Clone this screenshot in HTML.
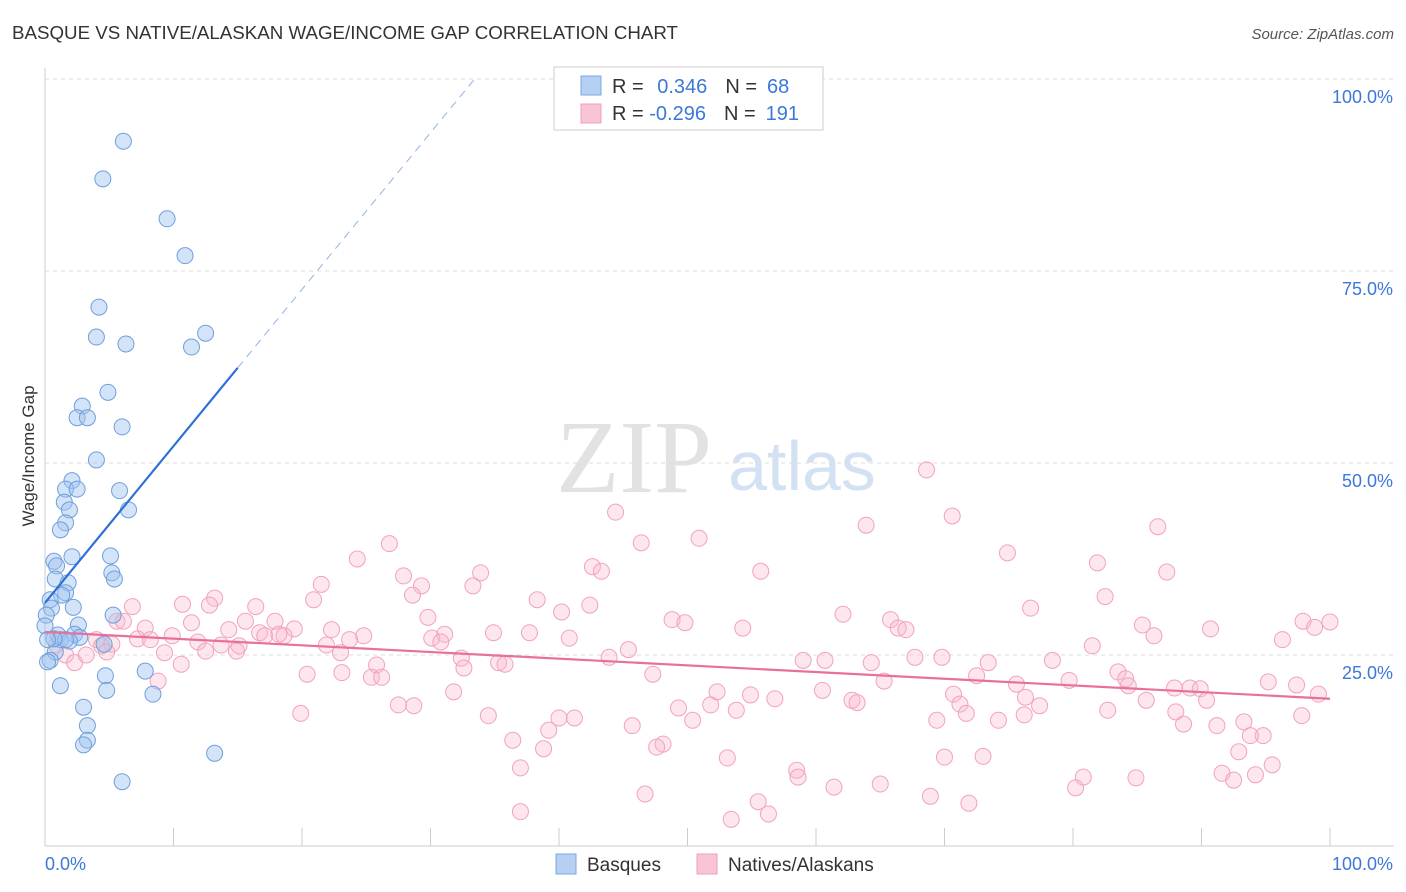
<!DOCTYPE html>
<html><head><meta charset="utf-8">
<style>
body{margin:0;background:#fff;font-family:"Liberation Sans",sans-serif;}
#wrap{position:relative;width:1406px;height:892px;overflow:hidden;}
</style></head>
<body>
<div id="wrap">
<svg id="chart" width="1406" height="892">
  <text x="12" y="39" font-size="18" fill="#333" textLength="666" lengthAdjust="spacingAndGlyphs">BASQUE VS NATIVE/ALASKAN WAGE/INCOME GAP CORRELATION CHART</text>
  <text x="1394" y="39" font-size="15" fill="#555" font-style="italic" text-anchor="end">Source: ZipAtlas.com</text>
  <text x="34" y="456" font-size="17" fill="#333" text-anchor="middle" transform="rotate(-90 34 456)">Wage/Income Gap</text>
  <g>
    <text x="634" y="492" font-size="104" fill="#e2e2e2" text-anchor="middle" font-family="Liberation Serif,serif">ZIP</text>
    <text x="802" y="490" font-size="70" fill="#d3e2f3" text-anchor="middle">atlas</text>
  </g>
  <g id="grid"></g>
  <g id="axes"></g>
  <g id="pts"></g>
  <g id="lines"></g>
  <g>
    <rect x="554" y="67" width="269" height="63" fill="#fff" stroke="#ccc"/>
    <rect x="581" y="76" width="20" height="19" fill="#b5d0f2" stroke="#7aa8e0"/>
    <rect x="581" y="104" width="20" height="19" fill="#f9c5d5" stroke="#f0a0b8"/>
    <text x="612" y="93" font-size="20" fill="#333">R = <tspan fill="#3b78d8" dx="8">0.346</tspan><tspan dx="18" fill="#333">N =</tspan><tspan dx="10" fill="#3b78d8">68</tspan></text>
    <text x="612" y="120" font-size="20" fill="#333">R = <tspan fill="#3b78d8">-0.296</tspan><tspan dx="18" fill="#333">N =</tspan><tspan dx="10" fill="#3b78d8">191</tspan></text>
  </g>
  <g>
    <rect x="556" y="854" width="20" height="20" fill="#b5d0f2" stroke="#7aa8e0"/>
    <text x="587" y="871" font-size="19" fill="#333">Basques</text>
    <rect x="697" y="854" width="20" height="20" fill="#f9c5d5" stroke="#f0a0b8"/>
    <text x="728" y="871" font-size="19" fill="#333">Natives/Alaskans</text>
  </g>
</svg>
</div>
<script>
const yTicks=[25,50,75,100];
const yTickLabels=["25.0%","50.0%","75.0%","100.0%"];
const xTicks=[0,10,20,30,40,50,60,70,80,90,100];
const blueX=[6.1,4.5,9.5,10.9,4.2,4.0,6.3,12.5,11.4,4.9,2.9,2.5,3.3,6.0,4.0,2.1,1.6,2.5,1.5,5.8,1.9,6.5,1.6,1.2,5.1,2.1,0.7,0.9,5.2,0.8,5.4,1.8,1.6,1.3,0.4,2.2,0.5,5.3,0.1,2.6,0,1.0,2.3,2.7,1.2,1.9,4.6,0.8,0.4,7.8,0.2,4.7,1.2,4.8,8.4,3.0,3.3,3.3,3.0,13.2,6.0,1.6,0.7,0.2];
const blueY=[91.9,87.0,81.8,77.0,70.3,66.4,65.5,66.9,65.1,59.2,57.4,55.9,55.9,54.7,50.4,47.7,46.6,46.6,44.9,46.4,43.9,43.9,42.2,41.3,37.9,37.8,37.2,36.6,35.7,34.9,34.9,34.4,33.1,32.8,32.2,31.2,31.1,30.2,30.2,28.9,28.8,27.6,27.7,27.3,27.0,26.8,26.4,25.4,24.3,22.9,24.1,22.3,21.0,20.4,19.9,18.2,15.8,13.9,13.3,12.2,8.5,27.0,27.1,27.0];
const pinkX=[44.4,68.6,70.6,63.9,86.6,50.9,46.4,26.8,74.9,81.9,24.3,42.6,43.3,87.3,55.7,27.9,33.9,21.5,29.3,33.3,28.6,13.2,82.5,38.3,10.7,12.8,16.4,6.8,42.4,20.9,76.7,62.1,40.2,29.8,48.8,49.8,65.8,97.9,100,98.8,85.4,90.7,15.6,17.9,11.4,5.6,6.1,7.8,14.3,16.7,19.4,22.3,34.9,37.7,40.8,54.3,66.4,67.0,86.3,96.3,31.1,30.1,30.8,24.8,23.7,9.9,11.9,13.7,15.1,17.1,18.6,18.2,12.5,14.9,7.2,8.2,5.2,4.0,4.4,0.9,1.6,2.3,3.2,4.8,9.3,10.6,21.9,23.0,45.4,43.9,32.4,32.6,35.3,35.8,81.5,78.4,67.7,69.8,73.4,59.0,60.7,64.3,83.5,84.1,72.5,84.3,65.3,79.7,75.6,8.8,20.4,23.1,25.8,25.4,26.2,47.3,95.2,97.4,99.1,87.9,89.1,89.9,90.4,85.7,76.3,70.7,71.2,52.3,54.9,56.8,60.5,62.8,63.2,51.8,49.3,31.8,27.5,28.7,19.9,34.5,40.0,41.2,53.8,50.4,82.7,88.0,88.6,91.2,93.3,94.8,97.8,69.4,71.7,77.4,74.2,76.2,45.7,39.2,36.4,48.1,47.6,38.8,93.8,92.9,95.5,91.6,92.5,94.2,80.8,80.2,84.9,73.0,53.1,58.5,58.6,65.0,61.4,70.0,37.0,46.7,55.5,56.3,68.9,71.9,53.4,37.0];
const pinkY=[43.6,49.1,43.1,41.9,41.7,40.2,39.6,39.5,38.3,37.0,37.5,36.5,35.9,35.8,35.9,35.3,35.7,34.2,34.0,34.0,32.8,32.4,32.6,32.2,31.6,31.5,31.3,31.3,31.5,32.2,31.1,30.3,30.6,29.9,29.6,29.2,29.6,29.4,29.3,28.6,28.9,28.4,29.4,29.4,29.2,29.4,29.4,28.5,28.3,27.9,28.4,28.3,27.9,27.9,27.2,28.5,28.5,28.3,27.5,27.0,27.7,27.2,26.7,27.5,27.0,27.5,26.7,26.3,26.2,27.5,27.5,27.7,25.5,25.5,27.1,27.0,26.4,27.0,26.2,26.3,25.0,24.0,25.0,25.4,25.3,23.8,26.3,25.3,25.7,24.7,24.6,23.3,24.0,23.8,26.2,24.3,24.7,24.7,24.0,24.3,24.3,24.0,22.8,21.9,22.3,21.0,21.6,21.7,21.2,21.6,22.5,22.7,23.7,22.1,22.1,22.5,21.5,21.1,19.9,20.7,20.7,20.6,19.1,19.1,19.5,19.9,18.6,20.2,19.8,19.3,20.4,19.1,18.8,18.5,18.1,20.2,18.5,18.4,17.4,17.1,16.8,16.8,17.8,16.5,17.8,17.6,16.0,15.8,16.3,14.5,17.1,16.5,17.4,18.4,16.5,17.2,15.8,15.2,13.9,13.4,13.0,12.8,14.5,12.4,10.7,9.6,8.7,9.4,9.1,7.7,9.0,11.8,11.6,10.0,9.1,8.2,7.8,11.7,10.3,6.9,5.9,4.3,6.6,5.7,3.6,4.6];
const blueFit={x0:0,x1:15,intercept:31.8,slope:2.04,xDashEnd:33.4};
const pinkFit={x0:0,x1:100,intercept:28.0,slope:-0.087};

const NS="http://www.w3.org/2000/svg";
const X0=45,X1=1330,Y0=847,YPER=7.68;
const sx=v=>X0+(X1-X0)*v/100;
const sy=v=>Y0-v*YPER;
function mk(tag,attrs,parent){const e=document.createElementNS(NS,tag);for(const k in attrs)e.setAttribute(k,attrs[k]);parent.appendChild(e);return e;}
const grid=document.getElementById('grid'),axes=document.getElementById('axes'),pts=document.getElementById('pts'),lines=document.getElementById('lines');
yTicks.forEach((t,i)=>{
  const l=mk('line',{x1:45,x2:1394,y1:sy(t),y2:sy(t),stroke:'#ddd','stroke-dasharray':'4,4'},grid);
  
  
  const tx=mk('text',{x:1393,y:sy(t)+24,'font-size':18,fill:'#3b78d8','text-anchor':'end'},grid);
  tx.textContent=yTickLabels[i];
  
  
});
const ax=mk('line',{x1:45,x2:1394,y1:846,y2:846,stroke:'#ccc'},axes);


const ay=mk('line',{x1:45,x2:45,y1:68,y2:846,stroke:'#ccc'},axes);


xTicks.forEach(t=>{
  const l=mk('line',{x1:sx(t),x2:sx(t),y1:828,y2:846,stroke:'#ccc'},axes);
  
  
});
const xl0=mk('text',{x:45,y:870,'font-size':18,fill:'#3b78d8'},axes);xl0.textContent='0.0%';


const xl1=mk('text',{x:1393,y:870,'font-size':18,fill:'#3b78d8','text-anchor':'end'},axes);xl1.textContent='100.0%';


pinkX.forEach((v,i)=>{
  const c=mk('circle',{cx:sx(v),cy:sy(pinkY[i]),r:8,fill:'rgba(248,182,204,0.35)',stroke:'#f1a3bd','stroke-width':1},pts);
  
  
});
blueX.forEach((v,i)=>{
  const c=mk('circle',{cx:sx(v),cy:sy(blueY[i]),r:8,fill:'rgba(160,196,240,0.45)',stroke:'#6f9fdc','stroke-width':1},pts);
  
  
});
const bf=x=>blueFit.intercept+blueFit.slope*x;
const l1=mk('line',{x1:sx(blueFit.x0),y1:sy(bf(blueFit.x0)),x2:sx(blueFit.x1),y2:sy(bf(blueFit.x1)),stroke:'#2f6fd6','stroke-width':2.2},lines);


const l2=mk('line',{x1:sx(blueFit.x1),y1:sy(bf(blueFit.x1)),x2:sx(blueFit.xDashEnd),y2:sy(bf(blueFit.xDashEnd)),stroke:'#8fb3e6','stroke-width':1,'stroke-dasharray':'8,6'},lines);


const pf=x=>pinkFit.intercept+pinkFit.slope*x;
const l3=mk('line',{x1:sx(pinkFit.x0),y1:sy(pf(pinkFit.x0)),x2:sx(pinkFit.x1),y2:sy(pf(pinkFit.x1)),stroke:'#e8719a','stroke-width':2.2},lines);


</script>
</body></html>
